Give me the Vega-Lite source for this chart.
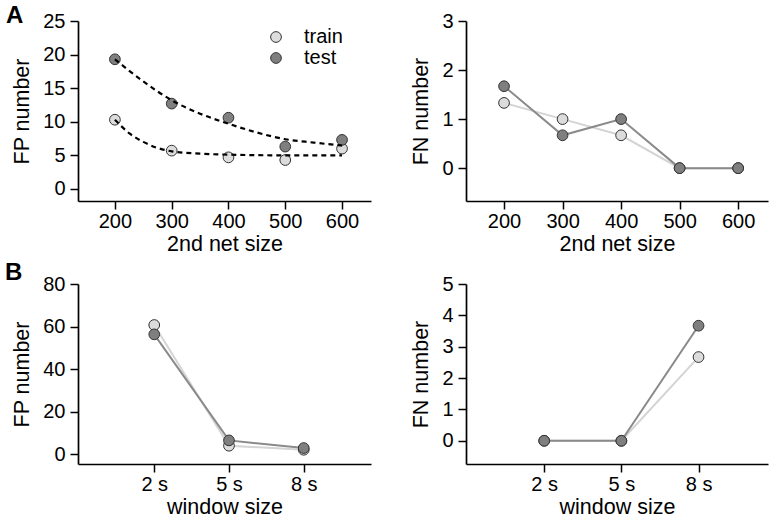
{
  "$schema": "https://vega.github.io/schema/vega-lite/v6.json",
  "padding": {"left": 5, "top": 4, "right": 5, "bottom": 0},
  "config": {
    "font": "Liberation Sans",
    "view": {"stroke": null},
    "axis": {"grid": false, "domainColor": "#000", "domainWidth": 1.7, "tickColor": "#000", "tickWidth": 1.5, "tickSize": 8, "labelFontSize": 20, "titleFontSize": 21.5, "labelColor": "#000", "titleColor": "#000", "titleFontWeight": "normal", "labelOverlap": false, "labelFlush": false},
    "axisX": {"labelPadding": 2, "titlePadding": 2},
    "axisY": {"labelPadding": 5, "titlePadding": 9},
    "legend": {"symbolSize": 115, "symbolStrokeColor": "#333", "symbolStrokeWidth": 1, "labelFontSize": 20, "labelOffset": 18, "labelColor": "#000", "rowPadding": 1}
  },
  "datasets": {
    "fpnet": [
      {"net": 200, "set": "train", "v": 10.3}, {"net": 300, "set": "train", "v": 5.7}, {"net": 400, "set": "train", "v": 4.7}, {"net": 500, "set": "train", "v": 4.3}, {"net": 600, "set": "train", "v": 6.0},
      {"net": 200, "set": "test", "v": 19.3}, {"net": 300, "set": "test", "v": 12.7}, {"net": 400, "set": "test", "v": 10.6}, {"net": 500, "set": "test", "v": 6.3}, {"net": 600, "set": "test", "v": 7.3}
    ],
    "fits": [
      {"net": 200, "set": "train", "v": 10.3}, {"net": 225, "set": "train", "v": 8.3}, {"net": 250, "set": "train", "v": 7.0}, {"net": 275, "set": "train", "v": 6.1}, {"net": 300, "set": "train", "v": 5.6}, {"net": 350, "set": "train", "v": 5.25}, {"net": 400, "set": "train", "v": 5.1}, {"net": 500, "set": "train", "v": 5.0}, {"net": 600, "set": "train", "v": 5.0},
      {"net": 200, "set": "test", "v": 19.3}, {"net": 250, "set": "test", "v": 16.0}, {"net": 300, "set": "test", "v": 13.2}, {"net": 350, "set": "test", "v": 11.2}, {"net": 400, "set": "test", "v": 9.7}, {"net": 450, "set": "test", "v": 8.4}, {"net": 500, "set": "test", "v": 7.4}, {"net": 550, "set": "test", "v": 6.9}, {"net": 600, "set": "test", "v": 6.45}
    ],
    "fnnet": [
      {"net": 200, "set": "train", "v": 1.33}, {"net": 300, "set": "train", "v": 1.0}, {"net": 400, "set": "train", "v": 0.67}, {"net": 500, "set": "train", "v": 0}, {"net": 600, "set": "train", "v": 0},
      {"net": 200, "set": "test", "v": 1.67}, {"net": 300, "set": "test", "v": 0.67}, {"net": 400, "set": "test", "v": 1.0}, {"net": 500, "set": "test", "v": 0}, {"net": 600, "set": "test", "v": 0}
    ],
    "fpwin": [
      {"win": 2, "set": "train", "v": 60.7}, {"win": 5, "set": "train", "v": 3.9}, {"win": 8, "set": "train", "v": 2.0},
      {"win": 2, "set": "test", "v": 56.3}, {"win": 5, "set": "test", "v": 6.4}, {"win": 8, "set": "test", "v": 2.8}
    ],
    "fnwin": [
      {"win": 2, "set": "train", "v": 0}, {"win": 5, "set": "train", "v": 0}, {"win": 8, "set": "train", "v": 2.67},
      {"win": 2, "set": "test", "v": 0}, {"win": 5, "set": "test", "v": 0}, {"win": 8, "set": "test", "v": 3.67}
    ]
  },
  "columns": 2,
  "bounds": "flush",
  "spacing": {"column": 95, "row": 83},
  "concat": [
    {
      "width": 293, "height": 180,
      "title": {"text": "A", "fontSize": 24, "fontWeight": "bold", "anchor": "start", "frame": "group", "dx": -72, "offset": -17},
      "encoding": {
        "x": {"field": "net", "type": "quantitative", "scale": {"domain": [135, 651], "nice": false, "zero": false}, "axis": {"values": [200, 300, 400, 500, 600], "title": "2nd net size"}},
        "y": {"field": "v", "type": "quantitative", "scale": {"domain": [-1.8, 25], "nice": false}, "axis": {"values": [0, 5, 10, 15, 20, 25], "title": "FP number"}}
      },
      "layer": [
        {
          "data": {"name": "fpnet"},
          "mark": {"type": "circle", "size": 115, "stroke": "#333", "strokeWidth": 1, "opacity": 1},
          "encoding": {
            "fill": {"field": "set", "type": "nominal", "scale": {"domain": ["train", "test"], "range": ["#dcdcdc", "#7f7f7f"]}, "legend": {"title": null, "orient": "none", "legendX": 188, "legendY": 6}},
            "order": {"field": "set", "sort": "descending"}
          }
        },
        {
          "data": {"name": "fits"},
          "mark": {"type": "line", "stroke": "#000", "strokeWidth": 2.2, "strokeDash": [5, 4], "interpolate": "monotone"},
          "encoding": {
            "detail": {"field": "set"}
          }
        }
      ]
    },
    {
      "width": 302, "height": 180,
      "data": {"name": "fnnet"},
      "encoding": {
        "x": {"field": "net", "type": "quantitative", "scale": {"domain": [135, 651], "nice": false, "zero": false}, "axis": {"values": [200, 300, 400, 500, 600], "title": "2nd net size"}},
        "y": {"field": "v", "type": "quantitative", "scale": {"domain": [-0.67, 3], "nice": false}, "axis": {"values": [0, 1, 2, 3], "title": "FN number"}}
      },
      "layer": [
        {"transform": [{"filter": "datum.set == 'train'"}], "mark": {"type": "line", "stroke": "#d4d4d4", "strokeWidth": 2}},
        {"transform": [{"filter": "datum.set == 'test'"}], "mark": {"type": "line", "stroke": "#8a8a8a", "strokeWidth": 2}},
        {"transform": [{"filter": "datum.set == 'train'"}], "mark": {"type": "circle", "size": 115, "stroke": "#333", "strokeWidth": 1, "opacity": 1},
         "encoding": {"fill": {"field": "set", "type": "nominal", "legend": null}}},
        {"transform": [{"filter": "datum.set == 'test'"}], "mark": {"type": "circle", "size": 115, "stroke": "#333", "strokeWidth": 1, "opacity": 1},
         "encoding": {"fill": {"field": "set", "type": "nominal", "legend": null}}}
      ]
    },
    {
      "width": 293, "height": 180,
      "title": {"text": "B", "fontSize": 24, "fontWeight": "bold", "anchor": "start", "frame": "group", "dx": -73, "offset": -11},
      "data": {"name": "fpwin"},
      "encoding": {
        "x": {"field": "win", "type": "quantitative", "scale": {"domain": [-1.06, 10.7], "nice": false, "zero": false}, "axis": {"values": [2, 5, 8], "labelExpr": "datum.value + ' s'", "title": "window size"}},
        "y": {"field": "v", "type": "quantitative", "scale": {"domain": [-4.7, 80], "nice": false}, "axis": {"values": [0, 20, 40, 60, 80], "title": "FP number"}}
      },
      "layer": [
        {"transform": [{"filter": "datum.set == 'train'"}], "mark": {"type": "line", "stroke": "#d4d4d4", "strokeWidth": 2}},
        {"transform": [{"filter": "datum.set == 'test'"}], "mark": {"type": "line", "stroke": "#8a8a8a", "strokeWidth": 2}},
        {"transform": [{"filter": "datum.set == 'train'"}], "mark": {"type": "circle", "size": 115, "stroke": "#333", "strokeWidth": 1, "opacity": 1},
         "encoding": {"fill": {"field": "set", "type": "nominal", "legend": null}}},
        {"transform": [{"filter": "datum.set == 'test'"}], "mark": {"type": "circle", "size": 115, "stroke": "#333", "strokeWidth": 1, "opacity": 1},
         "encoding": {"fill": {"field": "set", "type": "nominal", "legend": null}}}
      ]
    },
    {
      "width": 302, "height": 180,
      "data": {"name": "fnwin"},
      "encoding": {
        "x": {"field": "win", "type": "quantitative", "scale": {"domain": [-1.04, 10.7], "nice": false, "zero": false}, "axis": {"values": [2, 5, 8], "labelExpr": "datum.value + ' s'", "title": "window size"}},
        "y": {"field": "v", "type": "quantitative", "scale": {"domain": [-0.74, 5], "nice": false}, "axis": {"values": [0, 1, 2, 3, 4, 5], "title": "FN number"}}
      },
      "layer": [
        {"transform": [{"filter": "datum.set == 'train'"}], "mark": {"type": "line", "stroke": "#d4d4d4", "strokeWidth": 2}},
        {"transform": [{"filter": "datum.set == 'test'"}], "mark": {"type": "line", "stroke": "#8a8a8a", "strokeWidth": 2}},
        {"transform": [{"filter": "datum.set == 'train'"}], "mark": {"type": "circle", "size": 115, "stroke": "#333", "strokeWidth": 1, "opacity": 1},
         "encoding": {"fill": {"field": "set", "type": "nominal", "legend": null}}},
        {"transform": [{"filter": "datum.set == 'test'"}], "mark": {"type": "circle", "size": 115, "stroke": "#333", "strokeWidth": 1, "opacity": 1},
         "encoding": {"fill": {"field": "set", "type": "nominal", "legend": null}}}
      ]
    }
  ]
}
